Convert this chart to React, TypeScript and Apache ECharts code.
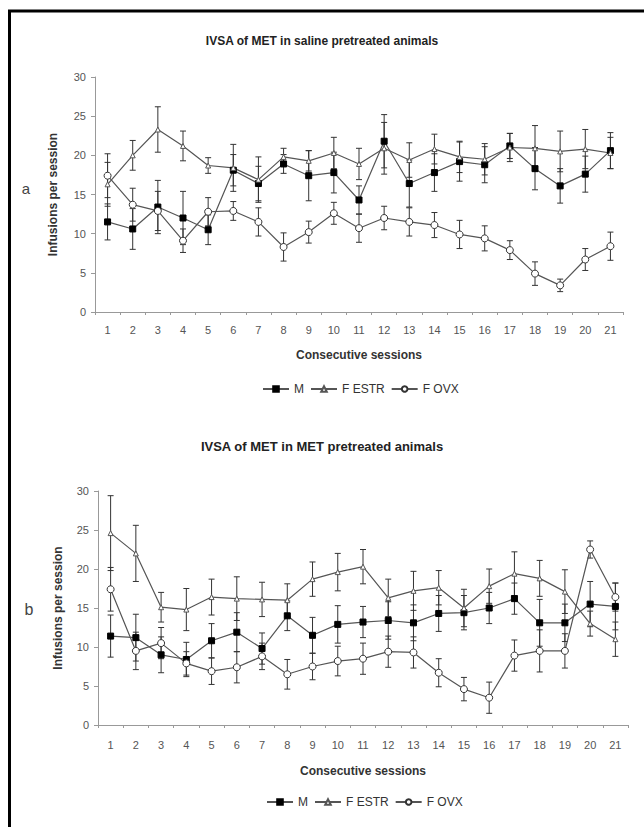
import React, { useEffect, useRef } from "react";
import * as echarts from "echarts";

const sessions = ["1","2","3","4","5","6","7","8","9","10","11","12","13","14","15","16","17","18","19","20","21"];
const yTicks = [0, 5, 10, 15, 20, 25, 30];

// Panel a: saline pretreated
const salineM = [11.5, 10.6, 13.4, 12.0, 10.5, 18.1, 16.4, 18.9, 17.4, 17.8, 14.3, 21.8, 16.4, 17.8, 19.2, 18.8, 21.2, 18.3, 16.1, 17.6, 20.6];
const salineMErr = [2.3, 2.6, 3.4, 3.4, 1.9, 2.0, 2.2, 1.2, 3.2, 2.6, 1.8, 3.4, 3.0, 2.4, 2.5, 2.3, 1.6, 2.7, 2.2, 2.3, 2.3];
const salineEstr = [16.3, 20.0, 23.3, 21.2, 18.7, 18.4, 16.9, 19.8, 19.3, 20.3, 18.9, 20.9, 19.4, 20.8, 19.8, 19.5, 21.0, 20.9, 20.5, 20.8, 20.3];
const salineEstrErr = [2.8, 1.9, 2.9, 1.9, 1.0, 3.0, 2.9, 1.1, 1.3, 2.0, 2.0, 3.3, 2.2, 1.9, 2.0, 2.0, 1.8, 2.9, 2.6, 2.5, 2.0];
const salineOvx = [17.4, 13.7, 12.9, 9.1, 12.8, 12.9, 11.5, 8.3, 10.2, 12.6, 10.7, 12.0, 11.5, 11.1, 9.9, 9.4, 7.9, 4.9, 3.4, 6.7, 8.4];
const salineOvxErr = [2.8, 2.1, 2.5, 1.5, 1.8, 1.2, 1.8, 1.8, 1.4, 1.4, 1.8, 1.5, 1.8, 1.6, 1.8, 1.6, 1.2, 1.5, 0.8, 1.4, 1.8];

// Panel b: MET pretreated
const metM = [11.4, 11.2, 9.0, 8.4, 10.8, 11.9, 9.8, 14.0, 11.5, 12.9, 13.2, 13.4, 13.1, 14.3, 14.4, 15.0, 16.2, 13.1, 13.1, 15.5, 15.2];
const metMErr = [2.7, 3.0, 2.3, 2.2, 2.2, 2.5, 2.0, 1.9, 2.3, 2.4, 2.0, 2.4, 2.3, 2.3, 2.2, 2.0, 2.0, 3.0, 2.4, 2.9, 3.0];
const metEstr = [24.6, 22.0, 15.1, 14.8, 16.4, 16.2, 16.1, 16.0, 18.7, 19.6, 20.3, 16.3, 17.2, 17.6, 15.0, 17.8, 19.4, 18.8, 17.1, 13.0, 11.0];
const metEstrErr = [4.8, 3.6, 1.9, 2.7, 2.3, 2.8, 2.2, 2.1, 2.2, 2.4, 2.2, 2.4, 2.5, 2.2, 2.4, 2.2, 2.8, 2.3, 2.8, 1.6, 2.2];
const metOvx = [17.4, 9.5, 10.5, 7.9, 6.9, 7.4, 8.8, 6.5, 7.5, 8.2, 8.5, 9.4, 9.3, 6.7, 4.6, 3.5, 8.9, 9.5, 9.5, 22.5, 16.4];
const metOvxErr = [2.8, 2.4, 2.0, 1.5, 1.7, 2.0, 1.7, 1.9, 1.7, 1.9, 2.0, 2.0, 2.0, 1.8, 1.5, 2.0, 2.0, 2.7, 2.2, 1.1, 1.8];

const seriesNames = ["M", "F ESTR", "F OVX"];

const FONT = "Liberation Sans, Arial, sans-serif";
const LEGEND_FONT_SIZE = 12;
const LEGEND_ITEM_W = 26;
const LEGEND_GAP = 6;

function measure(text: string, font: string): number {
  const c = document.createElement("canvas").getContext("2d");
  if (!c) return text.length * 6;
  c.font = font;
  return c.measureText(text).width;
}

export default function App() {
  const ref = useRef<HTMLDivElement>(null);

  useEffect(() => {
    if (!ref.current) return;
    const chart = echarts.init(ref.current, undefined, { renderer: "svg" });

    const errRender = (params: any, api: any) => {
      const x = api.value(0);
      const lo = api.coord([x, api.value(1)]);
      const hi = api.coord([x, api.value(2)]);
      const w = 3;
      const st = { stroke: "#333", lineWidth: 1 };
      return {
        type: "group",
        children: [
          { type: "line", shape: { x1: lo[0], y1: lo[1], x2: hi[0], y2: hi[1] }, style: st },
          { type: "line", shape: { x1: lo[0] - w, y1: lo[1], x2: lo[0] + w, y2: lo[1] }, style: st },
          { type: "line", shape: { x1: hi[0] - w, y1: hi[1], x2: hi[0] + w, y2: hi[1] }, style: st },
        ],
      };
    };

    const styles = [
      { symbol: "rect", symbolSize: 6, color: "#000", border: "#000" },
      { symbol: "triangle", symbolSize: 5, color: "#fff", border: "#555" },
      { symbol: "circle", symbolSize: 7, color: "#fff", border: "#333" },
    ];

    const panels = [
      { vals: [salineM, salineEstr, salineOvx], errs: [salineMErr, salineEstrErr, salineOvxErr] },
      { vals: [metM, metEstr, metOvx], errs: [metMErr, metEstrErr, metOvxErr] },
    ];

    const series: any[] = [];
    panels.forEach((p, gi) => {
      p.vals.forEach((v, si) => {
        series.push({
          type: "custom",
          name: seriesNames[si] + " err",
          xAxisIndex: gi,
          yAxisIndex: gi,
          renderItem: errRender,
          encode: { x: 0, y: [1, 2] },
          data: v.map((val, i) => [i, val - p.errs[si][i], val + p.errs[si][i]]),
          z: 1,
          silent: true,
        });
      });
      p.vals.forEach((v, si) => {
        const s = styles[si];
        series.push({
          type: "line",
          name: seriesNames[si],
          xAxisIndex: gi,
          yAxisIndex: gi,
          data: v,
          symbol: s.symbol,
          symbolSize: s.symbolSize,
          showAllSymbol: true,
          lineStyle: { color: "#555", width: 1.2 },
          itemStyle: { color: s.color, borderColor: s.border, borderWidth: 1 },
          z: 3,
        });
      });
    });

    const xAxisBase = (gi: number, gap: number, margin: number) => ({
      type: "category",
      gridIndex: gi,
      data: sessions,
      boundaryGap: true,
      axisLine: { lineStyle: { color: "#999" } },
      axisTick: { show: true, length: 3, lineStyle: { color: "#999" } },
      axisLabel: { color: "#555", fontSize: 11, fontFamily: FONT, margin },
      name: "Consecutive sessions",
      nameLocation: "middle",
      nameGap: gap,
      nameTextStyle: { color: "#333", fontSize: 12, fontWeight: "bold", fontFamily: FONT },
    });

    const yAxisBase = (gi: number, gap: number) => ({
      type: "value",
      gridIndex: gi,
      min: yTicks[0],
      max: yTicks[yTicks.length - 1],
      interval: 5,
      axisLine: { show: true, lineStyle: { color: "#999" } },
      axisTick: { show: true, length: 4, lineStyle: { color: "#999" } },
      splitLine: { show: false },
      axisLabel: { color: "#555", fontSize: 11, fontFamily: FONT, margin: 9 },
      name: "Infusions per session",
      nameLocation: "middle",
      nameRotate: 90,
      nameGap: gap,
      nameTextStyle: { color: "#333", fontSize: 12, fontWeight: "bold", fontFamily: FONT },
    });

    const legendFont = `${LEGEND_FONT_SIZE}px ${FONT}`;
    const legendWidth =
      seriesNames.reduce((acc, n) => acc + LEGEND_ITEM_W + 5 + measure(n, legendFont), 0) +
      LEGEND_GAP * (seriesNames.length - 1) +
      10;

    const legendBase = (top: number, centerX: number) => ({
      top,
      left: Math.round(centerX - legendWidth / 2),
      data: seriesNames,
      selectedMode: false,
      itemWidth: LEGEND_ITEM_W,
      itemHeight: 7,
      itemGap: LEGEND_GAP,
      textStyle: { color: "#333", fontSize: LEGEND_FONT_SIZE, fontFamily: FONT },
    });

    chart.setOption({
      animation: false,
      backgroundColor: "#fff",
      title: [
        {
          text: "IVSA of MET in saline pretreated animals",
          left: "center",
          top: 30,
          textStyle: { fontSize: 12, fontWeight: "bold", color: "#222", fontFamily: FONT },
        },
        {
          text: "IVSA of MET in MET pretreated animals",
          left: "center",
          top: 435,
          textStyle: { fontSize: 13, fontWeight: "bold", color: "#222", fontFamily: FONT },
        },
      ],
      legend: [legendBase(378, 359), legendBase(791, 363)],
      grid: [
        { left: 95, right: 21, top: 77, bottom: 515, containLabel: false },
        { left: 98, right: 16, top: 491, bottom: 102, containLabel: false },
      ],
      xAxis: [xAxisBase(0, 37, 12), xAxisBase(1, 40, 14)],
      yAxis: [yAxisBase(0, 36), yAxisBase(1, 34)],
      graphic: [
        {
          type: "polyline",
          shape: { points: [[9.5, 827], [9.5, 11], [644, 11]] },
          style: { stroke: "#000", lineWidth: 3, fill: "none" },
          silent: true,
        },
        {
          type: "text",
          x: 26,
          y: 188,
          style: { text: "a", fontSize: 15, fill: "#444", fontFamily: FONT, textAlign: "center", textVerticalAlign: "middle" },
        },
        {
          type: "text",
          x: 29,
          y: 609,
          style: { text: "b", fontSize: 16, fill: "#444", fontFamily: FONT, textAlign: "center", textVerticalAlign: "middle" },
        },
      ],
      series,
    });

    return () => chart.dispose();
  }, []);

  return (
    <div
      ref={ref}
      style={{ position: "fixed", left: 0, top: 0, width: 644, height: 827, background: "#fff" }}
    />
  );
}
